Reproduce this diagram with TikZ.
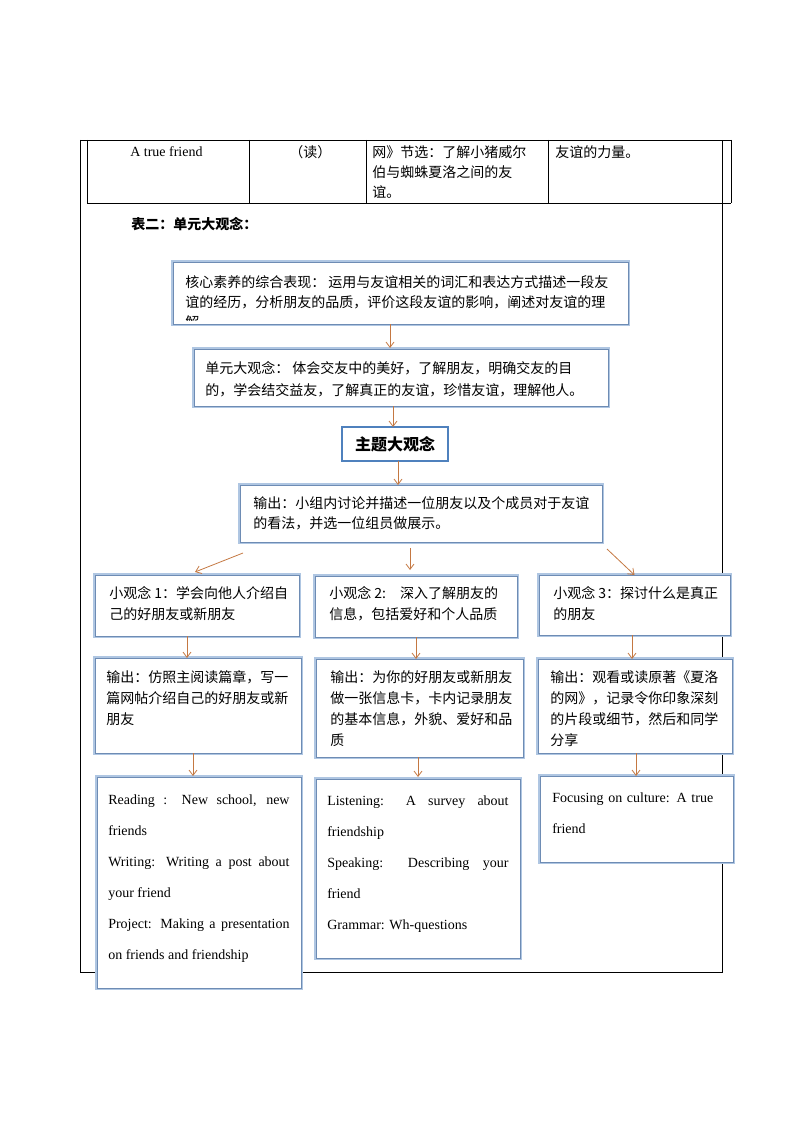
\documentclass[tikz,border=0pt]{standalone}
\usepackage{fontspec}
\setmainfont{Liberation Serif}
\newfontfamily\cjk{Noto Sans CJK SC}
\usetikzlibrary{arrows.meta}
\definecolor{boxedge}{RGB}{110,140,180}
\definecolor{boxband}{RGB}{175,198,226}
\definecolor{themeedge}{RGB}{79,129,189}
\definecolor{arrowcol}{RGB}{196,120,66}

\begin{document}
\begin{tikzpicture}[x=0.75pt,y=-0.75pt,
  ideabox/.style={draw=boxedge,line width=0.5pt,fill=white,preaction={draw=boxband,line width=3.2pt},anchor=north west,inner sep=0,outer sep=0},
  themebox/.style={draw=themeedge,line width=2pt,fill=white,inner sep=0,outer sep=0},
  cntext/.style={anchor=north west,inner sep=0,align=left,font=\cjk\fontsize{10.5}{15.75}\selectfont},
  cnline/.style={anchor=west,inner sep=0,font=\cjk\fontsize{10.5}{14}\selectfont},
  entext/.style={anchor=north west,inner sep=0,text width=136pt,align=justify,font=\fontsize{10.5}{23.25}\selectfont},
  flow/.style={draw=arrowcol,line width=0.6pt,-{Straight Barb[length=4pt,width=6pt]}}]
\useasboundingbox (0,0) rectangle (794,1123);
% table row and frame
\draw[line width=0.6pt] (80,140) -- (731,140);
\draw[line width=0.6pt] (87,140) -- (87,203);
\draw[line width=0.6pt] (249,140) -- (249,203);
\draw[line width=0.6pt] (366,140) -- (366,203);
\draw[line width=0.6pt] (548,140) -- (548,203);
\draw[line width=0.6pt] (731,140) -- (731,203);
\draw[line width=0.6pt] (87,203) -- (731,203);
\draw[line width=0.6pt] (80,140) -- (80,972) -- (722,972) -- (722,140);
\node[anchor=west,inner sep=0,font=\fontsize{10.5}{14}\selectfont] (topic) at (130,152) {A true friend};
\node[cnline] (skill) at (289,152) {（读）};
\node[cntext,font=\cjk\fontsize{10.5}{15}\selectfont] (source) at (372,145) {网》节选：了解小猪威尔\\伯与蜘蛛夏洛之间的友\\谊。};
\node[cnline] (value) at (555,152) {友谊的力量。};
\node[cnline,font=\cjk\bfseries\fontsize{10.5}{14}\selectfont] (tabletitle) at (131,224) {表二：单元大观念：};
% big ideas
\node[ideabox,minimum width=341.25pt,minimum height=46.5pt] (core) at (173,262) {};
\begin{scope}
\clip (core.north west) rectangle ([shift={(0,-4)}]core.south east);
\node[cntext,font=\cjk\fontsize{10.5}{15}\selectfont] (coretext) at (185,275) {核心素养的综合表现： 运用与友谊相关的词汇和表达方式描述一段友\\谊的经历，分析朋友的品质，评价这段友谊的影响，阐述对友谊的理\\解};
\end{scope}
\node[ideabox,minimum width=310.5pt,minimum height=42.75pt] (unit) at (194,349) {};
\node[cntext,font=\cjk\fontsize{10.5}{16.5}\selectfont] (unittext) at (205,361) {单元大观念： 体会交友中的美好，了解朋友，明确交友的目\\的，学会结交益友，了解真正的友谊，珍惜友谊，理解他人。};
\node[themebox,minimum width=79.5pt,minimum height=25.5pt,font=\cjk\bfseries\fontsize{12}{14}\selectfont] (theme) at (395,444) {主题大观念};
\node[ideabox,minimum width=271.5pt,minimum height=42.75pt] (output) at (240,485) {};
\node[cntext,font=\cjk\fontsize{10.5}{15}\selectfont] (outputtext) at (253,496) {输出：小组内讨论并描述一位朋友以及个成员对于友谊\\的看法，并选一位组员做展示。};
% small ideas
\node[ideabox,minimum width=153pt,minimum height=45.75pt] (idea1) at (95,575) {};
\node[cntext] (idea1text) at (109,586) {小观念 1：学会向他人介绍自\\己的好朋友或新朋友};
\node[ideabox,minimum width=151.5pt,minimum height=45.75pt] (idea2) at (315,576) {};
\node[cntext] (idea2text) at (329,586) {小观念 2:\quad 深入了解朋友的\\信息，包括爱好和个人品质};
\node[ideabox,minimum width=143.25pt,minimum height=45pt] (idea3) at (539,575) {};
\node[cntext] (idea3text) at (553,586) {小观念 3：探讨什么是真正\\的朋友};
% outputs
\node[ideabox,minimum width=154.5pt,minimum height=71.25pt] (task1) at (95,658) {};
\node[cntext] (task1text) at (106,670) {输出：仿照主阅读篇章，写一\\篇网帖介绍自己的好朋友或新\\朋友};
\node[ideabox,minimum width=155.25pt,minimum height=73.5pt] (task2) at (316,659) {};
\node[cntext] (task2text) at (330,670) {输出：为你的好朋友或新朋友\\做一张信息卡，卡内记录朋友\\的基本信息，外貌、爱好和品\\质};
\node[ideabox,minimum width=145.5pt,minimum height=70.5pt] (task3) at (538,659) {};
\node[cntext] (task3text) at (550,670) {输出：观看或读原著《夏洛\\的网》，记录令你印象深刻\\的片段或细节，然后和同学\\分享};
% lessons
\node[ideabox,minimum width=153pt,minimum height=158.25pt] (lesson1) at (97,777) {};
\node[entext] (lesson1text) at (108,795) {Reading : New school, new\linebreak friends\par Writing: Writing a post about\linebreak your friend\par Project: Making a presentation\linebreak on friends and friendship};
\node[ideabox,minimum width=153pt,minimum height=134.25pt] (lesson2) at (316,779) {};
\node[entext] (lesson2text) at (327,796) {Listening: A survey about\linebreak friendship\par Speaking: Describing your\linebreak friend\par Grammar: Wh-questions};
\node[ideabox,minimum width=144.75pt,minimum height=64.5pt] (lesson3) at (540,776) {};
\node[entext,align=left] (lesson3text) at (552,793) {Focusing on culture: A true\\friend};
% arrows
\draw[flow] ([shift={(-10.5,0)}]core.south) -- ([shift={(-11,-1)}]unit.north);
\draw[flow] ([shift={(-8,0)}]unit.south) -- ([shift={(-2,0)}]theme.north);
\draw[flow] ([shift={(3,0)}]theme.south) -- ([shift={(-23,0)}]output.north);
\draw[flow] ([shift={(3,11)}]output.south west) -- ([shift={(-2,-3)}]idea1.north);
\draw[flow] ([shift={(-11,6)}]output.south) -- ([shift={(-6,-6)}]idea2.north);
\draw[flow] ([shift={(5,7)}]output.south east) -- (idea3.north);
\draw[flow] ([shift={(-10,0)}]idea1.south) -- ([shift={(-11,0)}]task1.north);
\draw[flow] ([shift={(0,0)}]idea2.south) -- ([shift={(-3.5,0)}]task2.north);
\draw[flow] ([shift={(-2.5,0)}]idea3.south) -- ([shift={(-3,0)}]task3.north);
\draw[flow] ([shift={(-5,0)}]task1.south) -- ([shift={(-6,-1)}]lesson1.north);
\draw[flow] ([shift={(-1.5,0)}]task2.south) -- ([shift={(0,-2)}]lesson2.north);
\draw[flow] ([shift={(1,0)}]task3.south) -- ([shift={(-0.5,0)}]lesson3.north);
\end{tikzpicture}
\end{document}
